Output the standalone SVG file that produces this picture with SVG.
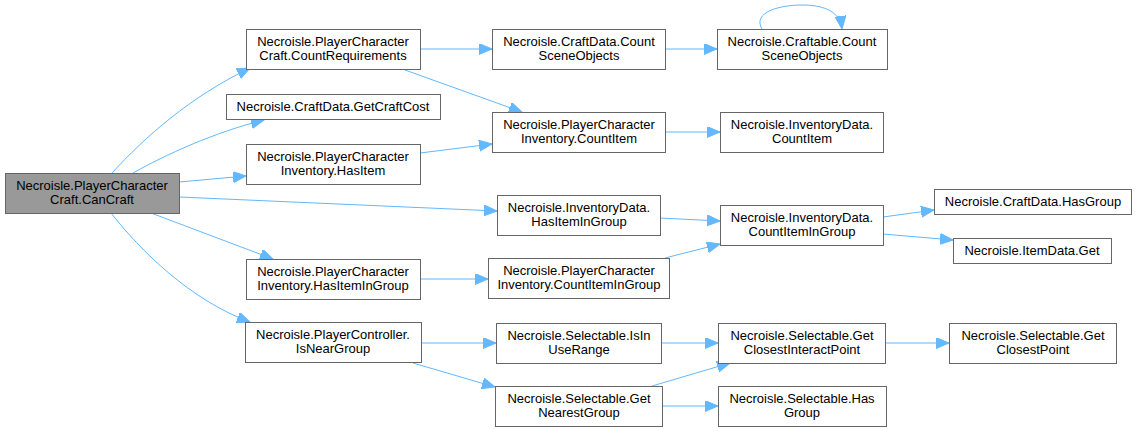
<svg xmlns="http://www.w3.org/2000/svg" width="1136" height="432" viewBox="0 0 1136 432">
<style>
.n rect{fill:#ffffff;stroke:#666666;stroke-width:1}
.n.hl rect{fill:#999999}
.n text{font-family:"Liberation Sans",Arial,sans-serif;font-size:13px;fill:#000000;text-anchor:middle}
.e path{fill:none;stroke:#63b8ff;stroke-width:1;marker-end:url(#ah)}
</style>
<defs>
<marker id="ah" markerUnits="userSpaceOnUse" markerWidth="14" markerHeight="12" refX="13" refY="5.5" orient="auto">
<path d="M0,0 L13,5.5 L0,11 z" fill="#63b8ff" stroke="#63b8ff" stroke-width="1"/>
</marker>
</defs>
<rect width="1136" height="432" fill="#ffffff"/>
<g id="edges" class="e">
<path d="M112,173 C145,137 190,97 250,68"/>
<path d="M133,173 C165,155 215,132 264,120"/>
<path d="M179,182 L246,176"/>
<path d="M179,197 L497,211"/>
<path d="M151,213 L273,259"/>
<path d="M111,213 C140,250 190,300 250,322"/>
<path d="M420,49 L492,49"/>
<path d="M405,70 L522,112"/>
<path d="M420,153 L492,144"/>
<path d="M665,49 L717,49"/>
<path d="M762,29 C752,12 780,5 802,5 C825,5 840,12 842,29"/>
<path d="M665,132 L720,132"/>
<path d="M660,218 L720,221"/>
<path d="M420,279 L488,279"/>
<path d="M665,258 L720,244"/>
<path d="M883,217 L934,210"/>
<path d="M883,234 L953,240"/>
<path d="M421,343 L496,343"/>
<path d="M413,363 L495,387"/>
<path d="M661,343 L718,343"/>
<path d="M652,386 L730,363"/>
<path d="M662,406 L718,406"/>
<path d="M885,343 L949,343"/>
</g>
<g id="n0" class="n hl"><rect x="5.5" y="173.5" width="174" height="40"/><text x="92" y="190">Necroisle.PlayerCharacter</text><text x="92" y="204">Craft.CanCraft</text></g>
<g id="n1" class="n"><rect x="246.5" y="29.5" width="174" height="40"/><text x="333" y="46">Necroisle.PlayerCharacter</text><text x="333" y="60">Craft.CountRequirements</text></g>
<g id="n2" class="n"><rect x="226.5" y="94.5" width="214" height="25"/><text x="333" y="111">Necroisle.CraftData.GetCraftCost</text></g>
<g id="n3" class="n"><rect x="246.5" y="144.5" width="174" height="40"/><text x="333" y="161">Necroisle.PlayerCharacter</text><text x="333" y="175">Inventory.HasItem</text></g>
<g id="n4" class="n"><rect x="497.5" y="195.5" width="163" height="40"/><text x="579" y="212">Necroisle.InventoryData.</text><text x="579" y="226">HasItemInGroup</text></g>
<g id="n5" class="n"><rect x="246.5" y="259.5" width="174" height="40"/><text x="333" y="276">Necroisle.PlayerCharacter</text><text x="333" y="290">Inventory.HasItemInGroup</text></g>
<g id="n6" class="n"><rect x="245.5" y="322.5" width="176" height="40"/><text x="333" y="339">Necroisle.PlayerController.</text><text x="333" y="353">IsNearGroup</text></g>
<g id="n7" class="n"><rect x="492.5" y="29.5" width="173" height="40"/><text x="579" y="46">Necroisle.CraftData.Count</text><text x="579" y="60">SceneObjects</text></g>
<g id="n8" class="n"><rect x="492.5" y="112.5" width="173" height="40"/><text x="579" y="129">Necroisle.PlayerCharacter</text><text x="579" y="143">Inventory.CountItem</text></g>
<g id="n9" class="n"><rect x="488.5" y="258.5" width="181" height="40"/><text x="579" y="275">Necroisle.PlayerCharacter</text><text x="579" y="289">Inventory.CountItemInGroup</text></g>
<g id="n10" class="n"><rect x="496.5" y="323.5" width="165" height="40"/><text x="579" y="340">Necroisle.Selectable.IsIn</text><text x="579" y="354">UseRange</text></g>
<g id="n11" class="n"><rect x="495.5" y="386.5" width="167" height="40"/><text x="579" y="403">Necroisle.Selectable.Get</text><text x="579" y="417">NearestGroup</text></g>
<g id="n12" class="n"><rect x="717.5" y="29.5" width="170" height="40"/><text x="802" y="46">Necroisle.Craftable.Count</text><text x="802" y="60">SceneObjects</text></g>
<g id="n13" class="n"><rect x="720.5" y="112.5" width="163" height="40"/><text x="802" y="129">Necroisle.InventoryData.</text><text x="802" y="143">CountItem</text></g>
<g id="n14" class="n"><rect x="720.5" y="205.5" width="163" height="40"/><text x="802" y="222">Necroisle.InventoryData.</text><text x="802" y="236">CountItemInGroup</text></g>
<g id="n15" class="n"><rect x="718.5" y="323.5" width="167" height="40"/><text x="802" y="340">Necroisle.Selectable.Get</text><text x="802" y="354">ClosestInteractPoint</text></g>
<g id="n16" class="n"><rect x="718.5" y="386.5" width="168" height="40"/><text x="802" y="403">Necroisle.Selectable.Has</text><text x="802" y="417">Group</text></g>
<g id="n17" class="n"><rect x="934.5" y="189.5" width="197" height="25"/><text x="1033" y="206">Necroisle.CraftData.HasGroup</text></g>
<g id="n18" class="n"><rect x="953.5" y="238.5" width="158" height="25"/><text x="1032" y="255">Necroisle.ItemData.Get</text></g>
<g id="n19" class="n"><rect x="949.5" y="323.5" width="167" height="40"/><text x="1033" y="340">Necroisle.Selectable.Get</text><text x="1033" y="354">ClosestPoint</text></g>
</svg>
